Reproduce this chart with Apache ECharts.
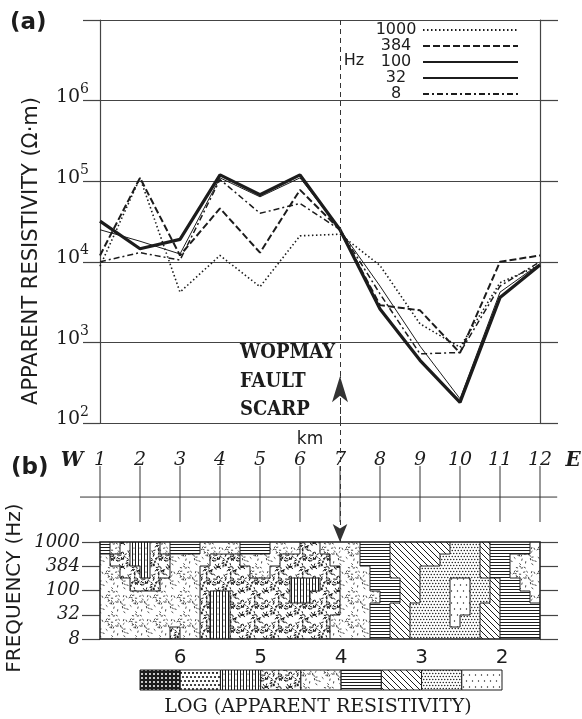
<!DOCTYPE html>
<html>
<head>
<meta charset="utf-8">
<script src="https://cdn.jsdelivr.net/npm/echarts@6/dist/echarts.min.js"></script>
<style>html,body{margin:0;padding:0;background:#fff}#chart{width:582px;height:719px}</style>
</head>
<body>
<div id="chart"></div>
<script>
// (a) apparent resistivity along the profile, one list per frequency
const kmPositions = [1, 2, 3, 4, 5, 6, 7, 8, 9, 10, 11, 12];
const res1000 = [8800, 110000, 4200, 12000, 4900, 21000, 22000, 9000, 1700, 870, 5500, 9100];
const res384 = [12000, 110000, 12000, 46000, 13000, 78000, 25000, 2900, 2500, 740, 10000, 12000];
const res100 = [32000, 14500, 19000, 120000, 68000, 120000, 25000, 2600, 600, 180, 3600, 9100];
const res32 = [25000, 18000, 12500, 110000, 64000, 110000, 25000, 5000, 900, 200, 4200, 9500];
const res8 = [10000, 13000, 10500, 105000, 40000, 53000, 25000, 4000, 720, 750, 5000, 10000];
const faultKm = 7;

// (b) pseudosection: rows top (1000 Hz) -> bottom (8 Hz), one class per quarter km
// class 1 = log 6-6.5 ... class 9 = log 2-2.5
const freqLabels = ['8', '32', '100', '384', '1000'];
const sectionRows = [
  '6543345666' + '5555666555' + '4455556667' + '7777788876' + '6665',
  '5443344555' + '5444555544' + '4445556667' + '7777888876' + '6555',
  '5544344555' + '4444455444' + '4444555667' + '7788888876' + '6555',
  '5554445555' + '4444444443' + '3344555666' + '7788899887' + '6655',
  '5555555555' + '4334444443' + '3444555566' + '7788899887' + '6665',
  '5555555555' + '4334444444' + '4444555667' + '7888899877' + '6666',
  '5555555555' + '4334444444' + '4445555667' + '7888898877' + '6666',
  '5555555455' + '4334444444' + '4445555667' + '7888888877' + '6666'
];
const legendEdges = [6.5, 6, 5.5, 5, 4.5, 4, 3.5, 3, 2.5, 2];

const ink = '#1c1c1c';

function rnd(seed) {
  let t = (seed + 0x6D2B79F5) | 0;
  t = Math.imul(t ^ (t >>> 15), t | 1);
  t ^= t + Math.imul(t ^ (t >>> 7), t | 61);
  return ((t ^ (t >>> 14)) >>> 0) / 4294967296;
}

function makePattern(cls) {
  const n = 24;
  const cv = document.createElement('canvas');
  cv.width = n; cv.height = n;
  const g = cv.getContext('2d');
  g.fillStyle = '#fff';
  g.fillRect(0, 0, n, n);
  g.fillStyle = ink;
  g.strokeStyle = ink;
  g.lineWidth = 1;
  const dot = (x, y, r) => { g.beginPath(); g.arc(x, y, r, 0, Math.PI * 2); g.fill(); };
  const speck = (count, seed, len) => {
    for (let i = 0; i < count; i++) {
      const x = rnd(seed + i * 7) * n, y = rnd(seed + i * 7 + 1) * n, a = rnd(seed + i * 7 + 2) * Math.PI;
      const dx = Math.cos(a) * len, dy = Math.sin(a) * len;
      for (const ox of [-n, 0, n]) for (const oy of [-n, 0, n]) {
        g.beginPath(); g.moveTo(x - dx + ox, y - dy + oy); g.lineTo(x + dx + ox, y + dy + oy); g.stroke();
      }
    }
  };
  if (cls === 1) {
    g.fillRect(0, 0, n, n);
    g.fillStyle = '#fff';
    for (let x = 0; x < n; x += 4) for (let y = 0; y < n; y += 4) dot(x + 2, y + 2, 1);
  } else if (cls === 2) {
    for (let y = 0; y < n; y += 4) for (let x = 0; x < n; x += 4) dot(x + ((y / 4) % 2 ? 2 : 0) + 1, y + 1, 1.1);
  } else if (cls === 3) {
    for (let x = 0.5; x < n; x += 3) { g.beginPath(); g.moveTo(x, 0); g.lineTo(x, n); g.stroke(); }
    for (let y = 0; y < n; y += 6) for (let x = 1.5; x < n; x += 6) dot(x + 0.5, y + 2, 0.6);
  } else if (cls === 4) {
    g.lineWidth = 1;
    speck(75, 11, 1.2);
  } else if (cls === 5) {
    g.lineWidth = 0.8;
    speck(34, 500, 1.1);
  } else if (cls === 6) {
    for (let y = 1.5; y < n; y += 3) { g.beginPath(); g.moveTo(0, y); g.lineTo(n, y); g.stroke(); }
  } else if (cls === 7) {
    for (let x = -n; x < n; x += 6) { g.beginPath(); g.moveTo(x, 0); g.lineTo(x + n, n); g.stroke(); }
  } else if (cls === 8) {
    for (let y = 0; y < n; y += 3) for (let x = 0; x < n; x += 3) dot(x + ((y / 3) % 2 ? 1.5 : 0) + 0.75, y + 1.5, 0.75);
  } else if (cls === 9) {
    for (let y = 0; y < n; y += 6) for (let x = 0; x < n; x += 6) dot(x + ((y / 6) % 2 ? 3 : 0) + 1.5, y + 3, 0.7);
  }
  return { image: cv, repeat: 'repeat' };
}
const patterns = {};
for (let c = 1; c <= 9; c++) patterns[c] = makePattern(c);

// cell data in axis units: [kmStart, levelTop, class, row, col]
const colStep = 0.25, rowStep = 0.5, topLevel = freqLabels.length - 1;
const sectionCells = [];
sectionRows.forEach((row, r) => {
  for (let c = 0; c < row.length; c++) {
    sectionCells.push([kmPositions[0] + c * colStep, topLevel - r * rowStep, +row[c], r, c]);
  }
});
const classAt = (r, c) => (sectionRows[r] ? +sectionRows[r][c] || 0 : 0);

const pair = arr => kmPositions.map((k, i) => [k, arr[i]]);

const chart = echarts.init(document.getElementById('chart'));

const serif = "'DejaVu Serif', serif";
const sans = "'DejaVu Sans', sans-serif";
const slab = "'DejaVu Serif Condensed', 'DejaVu Serif', serif";

const lineSeries = [
  { name: '1000', data: pair(res1000), lineStyle: { width: 1.6, type: [1.5, 2.5] } },
  { name: '384', data: pair(res384), lineStyle: { width: 2, type: [7, 3] } },
  { name: '100', data: pair(res100), lineStyle: { width: 3.2, type: 'solid' } },
  { name: '32', data: pair(res32), lineStyle: { width: 1, type: 'solid' } },
  { name: '8', data: pair(res8), lineStyle: { width: 1.5, type: [6, 3, 2, 3] } }
].map(s => ({
  type: 'line', xAxisIndex: 0, yAxisIndex: 0, symbol: 'none', showSymbol: false,
  name: s.name, data: s.data, color: ink,
  lineStyle: Object.assign({ color: ink }, s.lineStyle), z: 3
}));

const option = {
  animation: false,
  backgroundColor: '#fff',
  legend: {
    data: ['1000', '384', '100', '32', '8'],
    orient: 'vertical', right: 58, top: 17, align: 'right',
    itemWidth: 95, itemHeight: 12, itemGap: 0,
    itemStyle: { opacity: 0 },
    formatter: '{n|{name}}',
    textStyle: { color: ink, fontFamily: sans, fontSize: 16, lineHeight: 12,
      rich: { n: { width: 44, align: 'center', fontFamily: sans, fontSize: 16, lineHeight: 12, color: ink } } }
  },
  grid: [
    { left: 100, top: 20, width: 440, height: 403 },
    { left: 100, top: 421, width: 440, height: 218 },
    { left: 140, top: 670, width: 362, height: 20 }
  ],
  xAxis: [
    { gridIndex: 0, type: 'value', min: 1, max: 12, show: false },
    { gridIndex: 1, type: 'value', min: 1, max: 12, show: false },
    { gridIndex: 2, type: 'value', min: 2, max: 6.5, inverse: true, position: 'top',
      axisLine: { show: false }, axisTick: { show: false }, splitLine: { show: false },
      axisLabel: { customValues: [6, 5, 4, 3, 2], fontFamily: sans, fontSize: 20, color: ink, margin: 2 } }
  ],
  yAxis: [
    { gridIndex: 0, type: 'log', logBase: 10, min: 100, max: 1e7, position: 'left',
      axisLine: { show: true, lineStyle: { color: '#444', width: 1.2 } },
      axisTick: { show: true, length: 17, lineStyle: { color: '#444', width: 1.2 } },
      splitLine: { show: true, lineStyle: { color: '#444', width: 1.2 } },
      axisLabel: {
        margin: 11, padding: [0, 0, 12, 0],
        formatter: v => { const p = Math.round(Math.log10(v)); return p >= 7 ? '' : '{b|10}{e|' + p + '}'; },
        rich: {
          b: { fontFamily: serif, fontSize: 19, color: ink, lineHeight: 24, verticalAlign: 'bottom' },
          e: { fontFamily: serif, fontSize: 14, color: ink, lineHeight: 24, verticalAlign: 'top' }
        }
      } },
    { gridIndex: 0, type: 'log', logBase: 10, min: 100, max: 1e7, position: 'right',
      axisLine: { show: true, lineStyle: { color: '#444', width: 1.2 } },
      axisTick: { show: true, length: 18, lineStyle: { color: '#444', width: 1.2 } },
      splitLine: { show: false }, axisLabel: { show: false } },
    { gridIndex: 1, type: 'value', min: 0, max: 9, interval: 1, position: 'left',
      axisLine: { show: false }, splitLine: { show: false },
      axisTick: { show: true, length: 18, customValues: [0, 1, 2, 3, 4], lineStyle: { color: '#444', width: 1.2 } },
      axisLabel: { customValues: [0, 1, 2, 3, 4], margin: 20, formatter: v => freqLabels[v] || '',
        fontFamily: serif, fontStyle: 'italic', fontSize: 18, color: ink } },
    { gridIndex: 1, type: 'value', min: 0, max: 9, interval: 1, position: 'right',
      axisLine: { show: false }, splitLine: { show: false }, axisLabel: { show: false },
      axisTick: { show: true, length: 18, customValues: [0, 1, 2, 3, 4], lineStyle: { color: '#444', width: 1.2 } } },
    { gridIndex: 2, type: 'value', min: 0, max: 1, show: false }
  ],
  series: lineSeries.concat([
    { type: 'line', xAxisIndex: 0, yAxisIndex: 0, data: [], silent: true,
      markLine: { silent: true, symbol: ['none', 'none'], label: { show: false },
        lineStyle: { type: [5, 4], color: '#333', width: 1 },
        data: [
          [{ coord: [faultKm, 1e7] }, { coord: [faultKm, 100] }],
          [{ coord: [faultKm, 100] }, { coord: [faultKm, 380], symbol: 'arrow', symbolSize: [12, 26] }]
        ] } },
    { type: 'line', xAxisIndex: 1, yAxisIndex: 2, data: [], silent: true,
      markLine: { silent: true, symbol: ['none', 'none'], label: { show: false },
        lineStyle: { type: [5, 4], color: '#333', width: 1 },
        data: [
          [{ coord: [faultKm, 9] }, { coord: [faultKm, 4], symbol: 'arrow', symbolSize: [11, 18] }]
        ] } },
    { // pseudosection cells with contour edges where the class changes
      type: 'custom', xAxisIndex: 1, yAxisIndex: 2, silent: true, data: sectionCells, z: 1,
      renderItem: (params, api) => {
        const p0 = api.coord([api.value(0), api.value(1)]);
        const p1 = api.coord([api.value(0) + colStep, api.value(1) - rowStep]);
        const x0 = Math.round(p0[0]), y0 = Math.round(p0[1]), x1 = Math.round(p1[0]), y1 = Math.round(p1[1]);
        const cls = api.value(2), r = api.value(3), c = api.value(4);
        const children = [{ type: 'rect', shape: { x: x0, y: y0, width: x1 - x0, height: y1 - y0 },
          style: { fill: patterns[cls] } }];
        const edge = { stroke: '#222', lineWidth: 1 };
        const right = classAt(r, c + 1), below = classAt(r + 1, c);
        if (right && right !== cls) children.push({ type: 'line', z2: 5, shape: { x1: x1, y1: y0, x2: x1, y2: y1 }, style: edge });
        if (below && below !== cls) children.push({ type: 'line', z2: 5, shape: { x1: x0, y1: y1, x2: x1, y2: y1 }, style: edge });
        return { type: 'group', children };
      } },
    { // frame and km ruler
      type: 'custom', xAxisIndex: 1, yAxisIndex: 2, silent: true, z: 4,
      data: kmPositions.map(k => [k, 0]),
      renderItem: (params, api) => {
        const k = api.value(0);
        const children = [];
        const t = api.coord([k, 7.14]), b = api.coord([k, 4.83]), lab = api.coord([k, 7.4]);
        children.push({ type: 'line', shape: { x1: t[0], y1: t[1], x2: b[0], y2: b[1] }, style: { stroke: '#333', lineWidth: 1 } });
        children.push({ type: 'text', x: lab[0], y: lab[1], style: { text: String(k), fontFamily: serif, fontStyle: 'italic',
          fontSize: 19, fill: ink, align: 'center', verticalAlign: 'middle' } });
        if (params.dataIndex === 0) {
          const a = api.coord([kmPositions[0] - 0.5, 5.86]), e = api.coord([kmPositions[kmPositions.length - 1] + 0.43, 5.86]);
          children.push({ type: 'line', shape: { x1: a[0], y1: a[1], x2: e[0], y2: e[1] }, style: { stroke: '#333', lineWidth: 1 } });
          const f0 = api.coord([kmPositions[0], topLevel]), f1 = api.coord([kmPositions[kmPositions.length - 1], 0]);
          children.push({ type: 'rect', shape: { x: f0[0], y: f0[1], width: f1[0] - f0[0], height: f1[1] - f0[1] },
            style: { fill: null, stroke: ink, lineWidth: 1.5 } });
        }
        return { type: 'group', children };
      } },
    { // legend bar of resistivity classes
      type: 'custom', xAxisIndex: 2, yAxisIndex: 4, silent: true,
      data: legendEdges.slice(0, -1).map((hi, i) => [hi, legendEdges[i + 1], i + 1]),
      renderItem: (params, api) => {
        const p0 = api.coord([api.value(0), 1]), p1 = api.coord([api.value(1), 0]);
        return { type: 'rect', shape: { x: p0[0], y: p0[1], width: p1[0] - p0[0], height: p1[1] - p0[1] },
          style: { fill: patterns[api.value(2)], stroke: ink, lineWidth: 1 } };
      } }
  ]),
  graphic: [
    { type: 'text', left: 10, top: 12, style: { text: '(a)', font: 'bold 23px ' + sans, fill: ink } },
    { type: 'text', left: 11, top: 457, style: { text: '(b)', font: 'bold 23px ' + sans, fill: ink } },
    { type: 'text', x: 32, y: 251, rotation: Math.PI / 2,
      style: { text: 'APPARENT RESISTIVITY (Ω·m)', font: '21px ' + sans, fill: ink, align: 'center', verticalAlign: 'middle' } },
    { type: 'text', x: 15, y: 588, rotation: Math.PI / 2,
      style: { text: 'FREQUENCY (Hz)', font: '20px ' + sans, fill: ink, align: 'center', verticalAlign: 'middle' } },
    { type: 'text', x: 354, y: 61, style: { text: 'Hz', font: '16px ' + sans, fill: ink, align: 'center', verticalAlign: 'middle' } },
    { type: 'text', x: 240, y: 353, style: { text: 'WOPMAY', font: 'bold 20px ' + slab, fill: ink, verticalAlign: 'middle' } },
    { type: 'text', x: 240, y: 382, style: { text: 'FAULT', font: 'bold 20px ' + slab, fill: ink, verticalAlign: 'middle' } },
    { type: 'text', x: 240, y: 410, style: { text: 'SCARP', font: 'bold 20px ' + slab, fill: ink, verticalAlign: 'middle' } },
    { type: 'text', x: 310, y: 440, style: { text: 'km', font: '17px ' + sans, fill: ink, align: 'center', verticalAlign: 'middle' } },
    { type: 'text', x: 72, y: 461, style: { text: 'W', font: 'italic bold 20px ' + serif, fill: ink, align: 'center', verticalAlign: 'middle' } },
    { type: 'text', x: 573, y: 461, style: { text: 'E', font: 'italic bold 20px ' + serif, fill: ink, align: 'center', verticalAlign: 'middle' } },
    { type: 'text', x: 318, y: 707, style: { text: 'LOG (APPARENT RESISTIVITY)', font: '19px ' + serif, fill: ink, align: 'center', verticalAlign: 'middle' } }
  ]
};
chart.setOption(option);
</script>
</body>
</html>
